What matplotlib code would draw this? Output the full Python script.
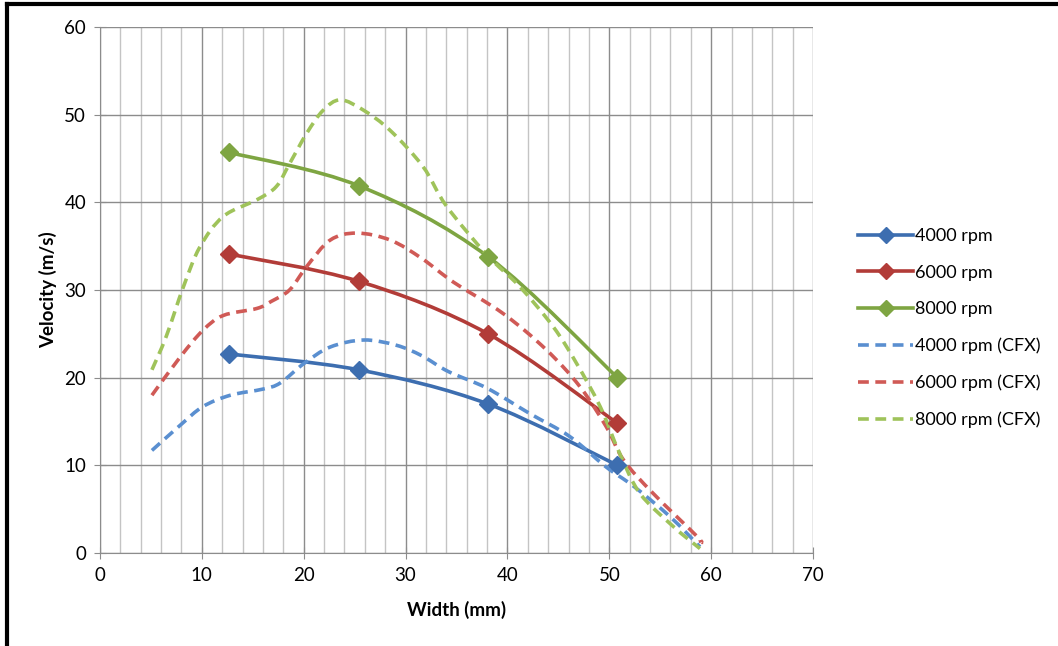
import numpy as np
import matplotlib.pyplot as plt
from matplotlib.path import Path
from matplotlib.patches import PathPatch
from matplotlib.lines import Line2D

plt.rcParams["font.family"] = ["Lato", "DejaVu Sans"]

# measured points (mm)
width = [12.7, 25.4, 38.1, 50.8]
v4000 = [22.7, 20.9, 17.0, 10.0]
v6000 = [34.1, 31.0, 25.0, 14.8]
v8000 = [45.7, 41.9, 33.8, 20.0]

# CFX curves
cfx4000_x = [5.1, 7.9, 10.1, 12.8, 16.0, 17.7, 20.0, 22.6, 25.9, 29.1, 31.6, 34.2, 38.0, 42.2, 46.1, 49.7, 52.4, 56.0, 58.9]
cfx4000_y = [11.7, 14.6, 16.7, 18.0, 18.7, 19.4, 21.6, 23.5, 24.3, 23.7, 22.5, 20.7, 18.8, 15.9, 13.3, 9.8, 7.6, 4.1, 0.7]
cfx6000_x = [5.1, 7.9, 10.1, 12.1, 15.4, 16.8, 18.6, 20.3, 22.6, 25.2, 28.5, 31.6, 34.7, 39.6, 43.8, 47.1, 49.7, 51.4, 54.3, 58.6, 59.0]
cfx6000_y = [18.0, 22.4, 25.4, 27.1, 27.9, 28.7, 30.0, 32.7, 35.7, 36.5, 35.7, 33.6, 30.9, 27.3, 23.2, 19.0, 14.4, 10.6, 6.8, 1.9, 1.2]
cfx8000_x = [5.1, 6.5, 8.2, 9.8, 12.1, 15.4, 17.3, 18.6, 20.3, 21.9, 23.6, 25.9, 28.5, 31.7, 34.0, 38.0, 41.2, 44.5, 46.8, 49.1, 51.0, 53.0, 56.3, 58.9]
cfx8000_y = [20.9, 24.7, 30.4, 34.9, 38.4, 40.3, 41.8, 44.4, 47.9, 50.5, 51.7, 50.5, 48.2, 44.1, 39.6, 34.0, 30.4, 25.8, 21.6, 16.7, 11.4, 6.8, 3.0, 0.5]

blue_d = "#3d6eb0"
red_d = "#b23c38"
green_d = "#7ea542"
blue_l = "#5a8fd0"
red_l = "#d05a56"
green_l = "#9fc35a"
dash = (0, (3, 1.8))


def smooth_path(xs, ys, k=1 / 6):
    # Excel-style smoothed line: Catmull-Rom turned into cubic Bezier
    p = np.column_stack([xs, ys]).astype(float)
    verts = [p[0]]
    codes = [Path.MOVETO]
    n = len(p)
    for i in range(n - 1):
        p0 = p[i - 1] if i > 0 else p[i]
        p3 = p[i + 2] if i + 2 < n else p[i + 1]
        c1 = p[i] + (p[i + 1] - p0) * k
        c2 = p[i + 1] - (p3 - p[i]) * k
        verts += [c1, c2, p[i + 1]]
        codes += [Path.CURVE4] * 3
    return Path(verts, codes)


fig = plt.figure(figsize=(10.58, 6.46), dpi=100)
ax = fig.add_axes([0.0945, 0.144, 0.674, 0.814])

for xs, ys, c in [(width, v4000, blue_d), (width, v6000, red_d), (width, v8000, green_d)]:
    ax.add_patch(PathPatch(smooth_path(xs, ys), fill=False, edgecolor=c, lw=2.6, zorder=3))
    ax.plot(xs, ys, ls="none", marker="D", ms=9, color=c, zorder=4)

for xs, ys, c in [(cfx4000_x, cfx4000_y, blue_l), (cfx6000_x, cfx6000_y, red_l), (cfx8000_x, cfx8000_y, green_l)]:
    ax.add_patch(PathPatch(smooth_path(xs, ys), fill=False, edgecolor=c, lw=2.6,
                           linestyle=dash, zorder=3))

ax.set_xlim(0, 70)
ax.set_ylim(0, 60)
ax.set_xticks(np.arange(0, 71, 10))
ax.set_xticks(np.arange(0, 71, 2), minor=True)
ax.set_yticks(np.arange(0, 61, 10))
ax.grid(True, which="major", axis="both", color="#8c8c8c", lw=1.0)
ax.grid(True, which="minor", axis="x", color="#c4c4c4", lw=1.0)
ax.set_axisbelow(True)
for s in ["top", "right"]:
    ax.spines[s].set_visible(False)
for s in ["left", "bottom"]:
    ax.spines[s].set_color("#8c8c8c")
ax.tick_params(which="major", direction="inout", length=8, color="#8c8c8c", labelsize=13.5, pad=6)
ax.tick_params(which="minor", length=0)
ax.set_xlabel("Width (mm)", fontsize=13.5, fontweight="bold", labelpad=12)
ax.set_ylabel("Velocity (m/s)", fontsize=13.5, fontweight="bold", labelpad=5)

handles = [
    Line2D([], [], color=blue_d, lw=2.6, marker="D", ms=8),
    Line2D([], [], color=red_d, lw=2.6, marker="D", ms=8),
    Line2D([], [], color=green_d, lw=2.6, marker="D", ms=8),
    Line2D([], [], color=blue_l, lw=2.6, ls=dash),
    Line2D([], [], color=red_l, lw=2.6, ls=dash),
    Line2D([], [], color=green_l, lw=2.6, ls=dash),
]
labels = ["4000 rpm", "6000 rpm", "8000 rpm", "4000 rpm (CFX)", "6000 rpm (CFX)", "8000 rpm (CFX)"]
fig.legend(handles, labels, loc="center left", bbox_to_anchor=(0.796, 0.492), frameon=False,
           fontsize=13, handlelength=3.0, handletextpad=0.15, labelspacing=1.13)

# black frame on top and left edges
fig.add_artist(Line2D([0.0066, 1.0], [0.9945, 0.9945], transform=fig.transFigure, color="black", lw=3))
fig.add_artist(Line2D([0.0066, 0.0066], [0.0, 0.9945], transform=fig.transFigure, color="black", lw=3))

fig.savefig("out.png", dpi=100)
